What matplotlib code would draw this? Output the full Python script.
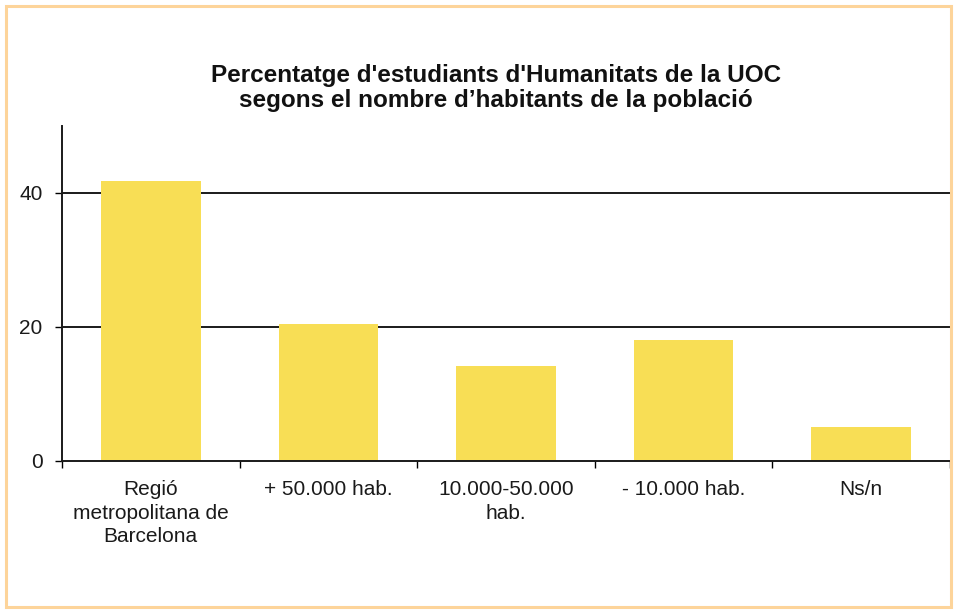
import matplotlib.pyplot as plt
import matplotlib.patches as patches
import numpy as np

plt.rcParams['font.family'] = ['Liberation Sans', 'DejaVu Sans']

categories = ['Regió\nmetropolitana de\nBarcelona', '+ 50.000 hab.', '10.000-50.000\nhab.',
              '- 10.000 hab.', 'Ns/n']
values = [41.8, 20.4, 14.1, 18.1, 5.0]
yticks = [0, 20, 40]

fig = plt.figure(figsize=(9.57, 6.10), dpi=100)
ax = fig.add_axes([62 / 957, 1 - 460.7 / 610, 888 / 957, (460.7 - 126) / 610])

x = np.arange(len(categories))
ax.bar(x, values, width=0.56, color='#F8DE55', zorder=2)

ax.set_xlim(-0.5, len(categories) - 0.5)
ax.set_ylim(0, 50)

# gridlines at 20 and 40
for y in yticks[1:]:
    ax.axhline(y, color='#1a1a1a', lw=1.4, zorder=1)

ax.set_yticks(yticks)
ax.set_yticklabels([str(v) for v in yticks], fontsize=15, color='#1a1a1a')
ax.tick_params(axis='y', length=5, width=1, pad=9, direction='out')

ax.set_xticks(x)
ax.set_xticklabels(categories, fontsize=15, color='#1a1a1a', linespacing=1.3)
ax.tick_params(axis='x', which='major', length=0, pad=14)
ax.set_xticks(np.arange(len(categories) + 1) - 0.5, minor=True)
ax.tick_params(axis='x', which='minor', length=5, width=1, direction='out')

for s in ['top', 'right']:
    ax.spines[s].set_visible(False)
for s in ['left', 'bottom']:
    ax.spines[s].set_color('#1a1a1a')
    ax.spines[s].set_linewidth(1.4)

fig.text(0.518, 1 - 88 / 610, "Percentatge d'estudiants d'Humanitats de la UOC\nsegons el nombre d\u2019habitants de la població",
         ha='center', va='center', fontsize=17.5, fontweight='bold', linespacing=1.1, color='#111111')

# border around the chart
fig.patches.append(patches.Rectangle((6 / 957, 3 / 610), 945 / 957, 601 / 610,
                                     transform=fig.transFigure, fill=False,
                                     edgecolor='#FDD49A', lw=2.2))

fig.savefig('out.png', dpi=100)
